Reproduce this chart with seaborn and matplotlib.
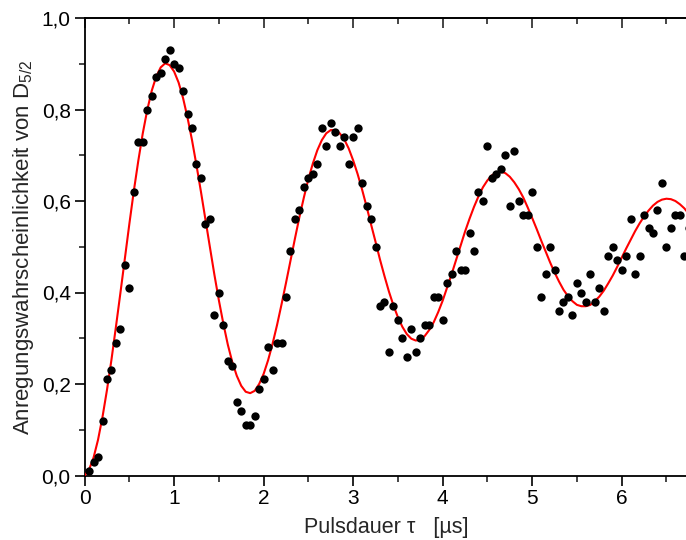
import matplotlib
matplotlib.use("Agg")
import matplotlib.pyplot as plt
import numpy as np
import pandas as pd
import seaborn as sns
from matplotlib.ticker import MultipleLocator, FuncFormatter, NullFormatter

# ---- measured data (pulse duration in µs, excitation probability) ----
pulse_us = [0.05, 0.10, 0.15, 0.20, 0.25, 0.30, 0.35, 0.40, 0.45, 0.50,
            0.55, 0.60, 0.65, 0.70, 0.75, 0.80, 0.85, 0.90, 0.95, 1.00,
            1.05, 1.10, 1.15, 1.20, 1.25, 1.30, 1.35, 1.40, 1.45, 1.50,
            1.55, 1.60, 1.65, 1.70, 1.75, 1.80, 1.85, 1.90, 1.95, 2.00,
            2.05, 2.10, 2.15, 2.20, 2.25, 2.30, 2.35, 2.40, 2.45, 2.50,
            2.55, 2.60, 2.65, 2.70, 2.75, 2.80, 2.85, 2.90, 2.95, 3.00,
            3.05, 3.10, 3.15, 3.20, 3.25, 3.30, 3.35, 3.40, 3.45, 3.50,
            3.55, 3.60, 3.65, 3.70, 3.75, 3.80, 3.85, 3.90, 3.95, 4.00,
            4.05, 4.10, 4.15, 4.20, 4.25, 4.30, 4.35, 4.40, 4.45, 4.50,
            4.55, 4.60, 4.65, 4.70, 4.75, 4.80, 4.85, 4.90, 4.95, 5.00,
            5.05, 5.10, 5.15, 5.20, 5.25, 5.30, 5.35, 5.40, 5.45, 5.50,
            5.55, 5.60, 5.65, 5.70, 5.75, 5.80, 5.85, 5.90, 5.95, 6.00,
            6.05, 6.10, 6.15, 6.20, 6.25, 6.30, 6.35, 6.40, 6.45, 6.50,
            6.55, 6.60, 6.65, 6.70, 6.75]

excitation = [0.01, 0.03, 0.04, 0.12, 0.21, 0.23, 0.29, 0.32, 0.46, 0.41,
              0.62, 0.73, 0.73, 0.80, 0.83, 0.87, 0.88, 0.91, 0.93, 0.90,
              0.89, 0.84, 0.79, 0.76, 0.68, 0.65, 0.55, 0.56, 0.35, 0.40,
              0.33, 0.25, 0.24, 0.16, 0.14, 0.11, 0.11, 0.13, 0.19, 0.21,
              0.28, 0.23, 0.29, 0.29, 0.39, 0.49, 0.56, 0.58, 0.63, 0.65,
              0.66, 0.68, 0.76, 0.72, 0.77, 0.75, 0.72, 0.74, 0.68, 0.74,
              0.76, 0.64, 0.59, 0.56, 0.50, 0.37, 0.38, 0.27, 0.37, 0.34,
              0.30, 0.26, 0.32, 0.27, 0.30, 0.33, 0.33, 0.39, 0.39, 0.34,
              0.42, 0.44, 0.49, 0.45, 0.45, 0.53, 0.49, 0.62, 0.60, 0.72,
              0.65, 0.66, 0.67, 0.70, 0.59, 0.71, 0.60, 0.57, 0.57, 0.62,
              0.50, 0.39, 0.44, 0.50, 0.45, 0.36, 0.38, 0.39, 0.35, 0.42,
              0.40, 0.38, 0.44, 0.38, 0.41, 0.36, 0.48, 0.50, 0.47, 0.45,
              0.48, 0.56, 0.44, 0.48, 0.57, 0.54, 0.53, 0.58, 0.64, 0.50,
              0.54, 0.57, 0.57, 0.48, 0.54]

# ---- fitted curve ----
fit_t = [0.00] + pulse_us
fit_p = [0.000, 0.013, 0.039, 0.078, 0.128, 0.187, 0.253, 0.325, 0.399, 0.475,
         0.550, 0.622, 0.688, 0.748, 0.799, 0.841, 0.872, 0.892, 0.901, 0.897,
         0.883, 0.859, 0.825, 0.782, 0.733, 0.678, 0.620, 0.559, 0.499, 0.439,
         0.383, 0.332, 0.286, 0.248, 0.218, 0.196, 0.183, 0.180, 0.185, 0.200,
         0.222, 0.252, 0.288, 0.329, 0.374, 0.421, 0.470, 0.518, 0.565, 0.608,
         0.648, 0.682, 0.711, 0.733, 0.748, 0.755, 0.755, 0.748, 0.735, 0.715,
         0.689, 0.659, 0.625, 0.588, 0.549, 0.511, 0.472, 0.436, 0.402, 0.372,
         0.346, 0.325, 0.309, 0.299, 0.295, 0.297, 0.305, 0.318, 0.335, 0.357,
         0.382, 0.411, 0.440, 0.471, 0.502, 0.533, 0.561, 0.587, 0.610, 0.630,
         0.645, 0.656, 0.662, 0.664, 0.661, 0.653, 0.641, 0.626, 0.608, 0.586,
         0.563, 0.539, 0.514, 0.490, 0.466, 0.444, 0.424, 0.406, 0.392, 0.381,
         0.373, 0.370, 0.370, 0.373, 0.381, 0.391, 0.404, 0.420, 0.437, 0.456,
         0.476, 0.496, 0.515, 0.534, 0.551, 0.566, 0.579, 0.590, 0.598, 0.603,
         0.605, 0.604, 0.600, 0.593, 0.584, 0.572]

x_major = [0, 1, 2, 3, 4, 5, 6]
y_major = [0.0, 0.2, 0.4, 0.6, 0.8, 1.0]

sns.set_style("ticks")
plt.rcParams["font.family"] = ["Liberation Sans", "DejaVu Sans"]
plt.rcParams["mathtext.default"] = "regular"

df_pts = pd.DataFrame({"t": pulse_us, "p": excitation})
df_fit = pd.DataFrame({"t": fit_t, "p": fit_p})

fig = plt.figure(figsize=(6.86, 5.40), dpi=100)
W, H = 686, 540
ax = fig.add_axes([84.6 / W, 64.5 / H, (W - 84.6) / W + 0.002, 457.5 / H])

sns.lineplot(data=df_fit, x="t", y="p", ax=ax, color="#ff0000", linewidth=1.5,
             zorder=3, estimator=None, sort=False)
sns.scatterplot(data=df_pts, x="t", y="p", ax=ax, color="black", s=36,
                edgecolor="black", linewidth=0, zorder=4)

ax.set_xlim(0, 6.734)
ax.set_ylim(0, 1.0)

ax.set_xticks(x_major)
ax.set_yticks(y_major)
ax.xaxis.set_minor_locator(MultipleLocator(0.5))
ax.yaxis.set_minor_locator(MultipleLocator(0.1))
ax.yaxis.set_major_formatter(FuncFormatter(lambda v, pos: f"{v:.1f}".replace(".", ",")))
ax.xaxis.set_major_formatter(FuncFormatter(lambda v, pos: f"{v:g}"))

for s in ["left", "bottom", "top"]:
    ax.spines[s].set_linewidth(1.3)
    ax.spines[s].set_color("black")
    ax.spines[s].set_visible(True)
ax.spines["right"].set_visible(False)

ax.tick_params(axis="both", which="major", direction="out", length=7, width=1.2,
               labelsize=15, colors="black", pad=3)
ax.tick_params(axis="both", which="minor", direction="out", length=4, width=1.2)
ax.tick_params(axis="x", top=False, which="both")
ax.tick_params(axis="y", right=False, which="both")

# top axis: ticks pointing inwards, no labels
top = ax.secondary_xaxis("top")
top.set_xticks(x_major)
top.xaxis.set_minor_locator(MultipleLocator(0.5))
top.xaxis.set_major_formatter(NullFormatter())
top.tick_params(axis="x", which="major", direction="in", length=7, width=1.2)
top.tick_params(axis="x", which="minor", direction="in", length=4, width=1.2)
top.spines["top"].set_linewidth(1.3)

ax.set_xlabel("Pulsdauer τ   [µs]", fontsize=15.5, labelpad=6)
ax.set_ylabel("Anregungswahrscheinlichkeit von D$_{5/2}$", fontsize=16, labelpad=4)

fig.savefig("out.png", dpi=100)
